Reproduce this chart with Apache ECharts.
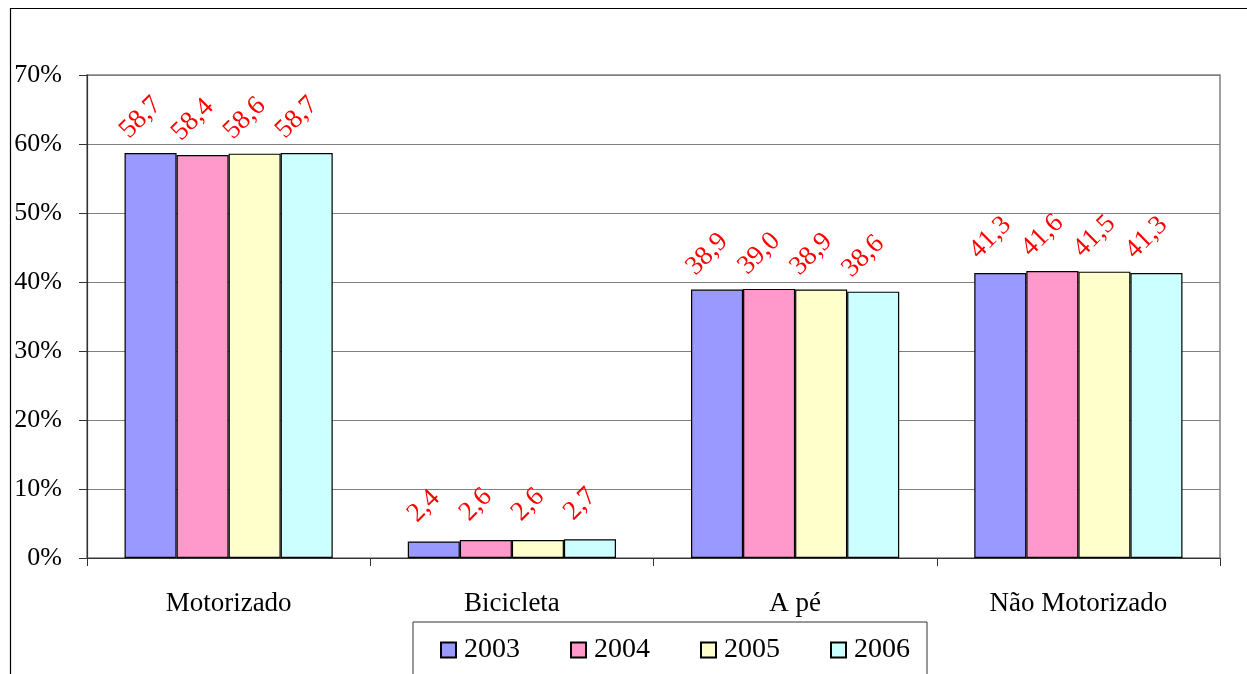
<!DOCTYPE html>
<html>
<head>
<meta charset="utf-8">
<script src="https://cdn.jsdelivr.net/npm/echarts@6/dist/echarts.min.js"></script>
<style>
html,body{margin:0;padding:0;background:#fff;}
#c{width:1247px;height:674px;}
</style>
</head>
<body>
<div id="c"></div>
<script>
const categories = ['Motorizado', 'Bicicleta', 'A pé', 'Não Motorizado'];
const years = ['2003', '2004', '2005', '2006'];
const s2003 = [58.7, 2.4, 38.9, 41.3];
const s2004 = [58.4, 2.6, 39.0, 41.6];
const s2005 = [58.6, 2.6, 38.9, 41.5];
const s2006 = [58.7, 2.7, 38.6, 41.3];
const yTicks = [0, 10, 20, 30, 40, 50, 60, 70];
const colors = ['#9999FF', '#FF99CC', '#FFFFCC', '#CCFFFF'];

const FONT = '"Liberation Serif", "Times New Roman", serif';
const seriesData = [s2003, s2004, s2005, s2006];

const chart = echarts.init(document.getElementById('c'), null, {renderer: 'canvas'});
chart.setOption({
  animation: false,
  backgroundColor: '#fff',
  textStyle: {fontFamily: FONT},
  graphic: [{
    type: 'rect',
    shape: {x: 10.5, y: 8.5, width: 1400, height: 800},
    style: {fill: 'none', stroke: '#000', lineWidth: 1.2},
    silent: true,
    z: -10
  }],
  grid: {
    left: 87, right: 27, top: 75, bottom: 116,
    show: true, borderColor: '#808080', borderWidth: 1.5,
    containLabel: false
  },
  legend: {
    data: years,
    left: 413, top: 622,
    padding: [14, 17, 40, 27],
    itemWidth: 15, itemHeight: 15, itemGap: 50,
    icon: 'rect',
    borderColor: '#333', borderWidth: 1,
    textStyle: {fontFamily: FONT, fontSize: 28, color: '#000', padding: [0, 0, 0, 3]}
  },
  xAxis: {
    type: 'category',
    data: categories,
    axisLine: {lineStyle: {color: '#333', width: 1.2}},
    axisTick: {show: true, length: 8, lineStyle: {color: '#333'}},
    axisLabel: {fontFamily: FONT, fontSize: 27, color: '#000', margin: 32}
  },
  yAxis: {
    type: 'value',
    min: yTicks[0], max: yTicks[yTicks.length - 1], interval: 10,
    axisLine: {show: true, lineStyle: {color: '#333', width: 1.2}},
    axisTick: {show: true, length: 8, lineStyle: {color: '#333'}},
    splitLine: {lineStyle: {color: '#808080', width: 1.2}},
    axisLabel: {fontFamily: FONT, fontSize: 26, color: '#000', margin: 25, formatter: '{value}%'}
  },
  series: years.map((y, i) => ({
    name: y,
    type: 'bar',
    data: seriesData[i],
    barGap: '0%',
    barCategoryGap: '26.5%',
    itemStyle: {color: colors[i], borderColor: '#000', borderWidth: 1.2},
    label: {
      show: true,
      position: 'top',
      distance: 0,
      rotate: 45,
      align: 'center',
      verticalAlign: 'middle',
      offset: [18, -32],
      color: '#FF0000',
      fontFamily: FONT,
      fontSize: 27,
      formatter: p => p.value.toFixed(1).replace('.', ',')
    }
  }))
});
</script>
</body>
</html>
